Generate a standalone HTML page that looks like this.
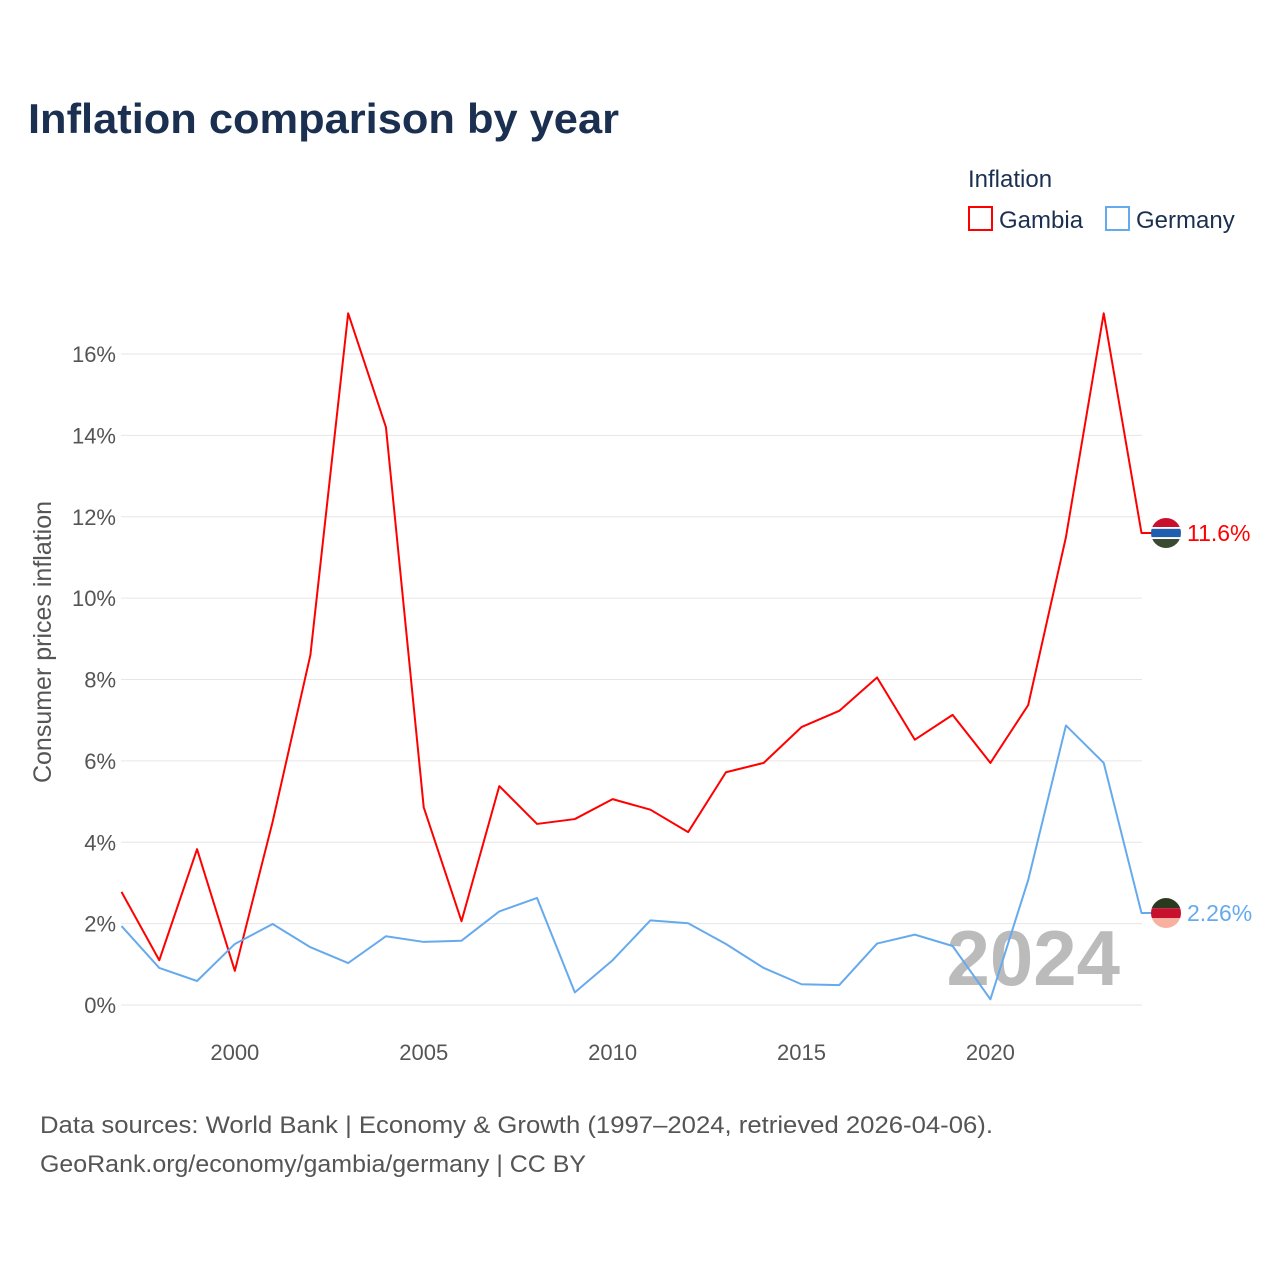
<!DOCTYPE html>
<html><head><meta charset="utf-8">
<style>
body{margin:0;background:#fff;}
svg{display:block;font-family:"Liberation Sans",sans-serif;}
</style></head>
<body>
<svg id="chart" width="1280" height="1280" viewBox="0 0 1280 1280">
<text x="28" y="133" font-size="42" font-weight="bold" fill="#1b3050" textLength="591" lengthAdjust="spacingAndGlyphs">Inflation comparison by year</text>
<text x="968" y="187" font-size="24" fill="#1b3050">Inflation</text>
<g>
<rect x="969" y="207" width="23" height="23" fill="none" stroke="#ff0000" stroke-width="2"/>
<text x="999" y="228" font-size="24" fill="#1b3050">Gambia</text></g>
<g>
<rect x="1106" y="207" width="23" height="23" fill="none" stroke="#66aaee" stroke-width="2"/>
<text x="1136" y="228" font-size="24" fill="#1b3050">Germany</text></g>
<g id="grid"></g><g id="yticks"></g><g id="xticks"></g>
<text x="1120" y="985" font-size="78" font-weight="bold" fill="#bbbbbb" text-anchor="end">2024</text>
<g id="series"></g>
<text transform="translate(51,642) rotate(-90)" font-size="25" fill="#555" text-anchor="middle">Consumer prices inflation</text>
<text x="40" y="1133" font-size="24" fill="#555" textLength="953" lengthAdjust="spacingAndGlyphs">Data sources: World Bank | Economy &amp; Growth (1997–2024, retrieved 2026-04-06).</text>
<text x="40" y="1172" font-size="24" fill="#555" textLength="546" lengthAdjust="spacingAndGlyphs">GeoRank.org/economy/gambia/germany | CC BY</text>
</svg>
<script>
const years=[1997,1998,1999,2000,2001,2002,2003,2004,2005,2006,2007,2008,2009,2010,2011,2012,2013,2014,2015,2016,2017,2018,2019,2020,2021,2022,2023,2024];
const gambia=[2.78,1.1,3.83,0.84,4.5,8.6,17.0,14.2,4.86,2.06,5.38,4.45,4.57,5.06,4.8,4.25,5.72,5.95,6.83,7.23,8.05,6.52,7.13,5.95,7.37,11.5,17.0,11.6];
const germany=[1.94,0.91,0.59,1.5,1.99,1.42,1.03,1.69,1.55,1.58,2.3,2.63,0.31,1.1,2.08,2.01,1.5,0.91,0.51,0.49,1.51,1.73,1.45,0.14,3.07,6.87,5.95,2.26];
const yTicks=[0,2,4,6,8,10,12,14,16];
const xTicks=[2000,2005,2010,2015,2020];
const NS="http://www.w3.org/2000/svg";
const X=y=>121.5+(y-1997)*(1141.5-121.5)/27;
const Y=v=>1005-v*(1005-354)/16;
function mk(tag,attrs,parent,txt){const e=document.createElementNS(NS,tag);for(const k in attrs)e.setAttribute(k,attrs[k]);if(txt!==undefined)e.textContent=txt;document.getElementById(parent).appendChild(e);return e;}
yTicks.forEach(t=>{
 const l=mk('line',{x1:121,x2:1142,y1:Y(t),y2:Y(t),stroke:'#e6e6e6','stroke-width':1},'grid');
 
 
 const tx=mk('text',{x:116,y:Y(t)+8,'font-size':22,fill:'#555','text-anchor':'end'},'yticks',t+'%');
 
 
});
xTicks.forEach(t=>{
 const tx=mk('text',{x:X(t),y:1060,'font-size':22,fill:'#555','text-anchor':'middle'},'xticks',String(t));
 
 
});
function series(vals,color,name,label,stripes){
 const pts=vals.map((v,i)=>X(years[i])+','+Y(v)).join(' ');
 const last=vals[vals.length-1],ly=Y(last),lx=X(years[years.length-1]);
 const p=mk('polyline',{points:pts+' '+(lx+11)+','+ly,fill:'none',stroke:color,'stroke-width':2,'stroke-linejoin':'round'},'series');
 
 
 const cx=1166,r=15;
 const cid='clip-'+name;
 const cp=mk('clipPath',{id:cid},'series');
 const c=document.createElementNS(NS,'circle');c.setAttribute('cx',cx);c.setAttribute('cy',ly);c.setAttribute('r',r);cp.appendChild(c);
 const g=mk('g',{'clip-path':'url(#'+cid+')'},'series');
 
 
 let yy=ly-r;
 stripes.forEach(s=>{const rr=document.createElementNS(NS,'rect');rr.setAttribute('x',cx-r);rr.setAttribute('y',yy);rr.setAttribute('width',2*r);rr.setAttribute('height',s[1]*2*r);rr.setAttribute('fill',s[0]);g.appendChild(rr);yy+=s[1]*2*r;});
 const t=mk('text',{x:1187,y:ly+8,'font-size':23,fill:color},'series',label);
 
 
}
series(gambia,'#ff0000','gambia','11.6%',[['#c8102e',0.3],['#fff',0.06],['#1f5fae',0.28],['#fff',0.06],['#3a4a30',0.3]]);
series(germany,'#66aaee','germany','2.26%',[['#2b3a1e',0.34],['#c8102e',0.33],['#f8b0a0',0.33]]);
</script>
</body></html>
